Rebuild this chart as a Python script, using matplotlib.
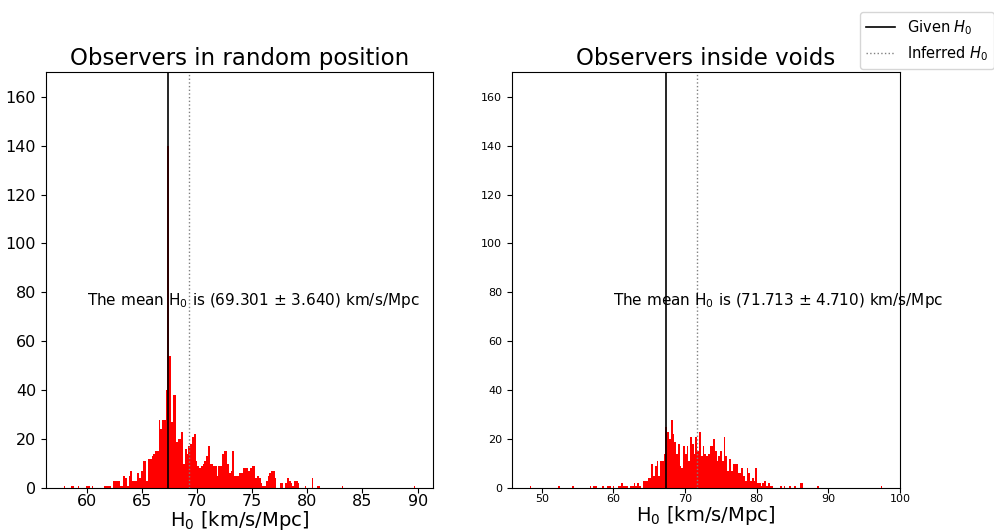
import numpy as np
import matplotlib
matplotlib.use("Agg")
import matplotlib.pyplot as plt

# H0 histograms (200 bins each) for the two observer samples
given_h0 = 67.4

random_range = (57.9, 89.8)
random_mean, random_std = 69.301, 3.640
random_counts = [
    1, 0, 0, 0, 1, 1, 0, 0, 1, 0,
    0, 0, 0, 1, 1, 0, 1, 0, 0, 0,
    0, 0, 0, 1, 1, 1, 1, 0, 3, 3,
    3, 3, 1, 1, 5, 4, 1, 5, 7, 3,
    3, 3, 6, 4, 7, 11, 11, 3, 12, 12,
    13, 14, 15, 15, 28, 24, 28, 28, 40, 140,
    54, 27, 38, 38, 19, 20, 20, 23, 10, 16,
    14, 17, 18, 21, 22, 11, 9, 8, 9, 10,
    11, 13, 17, 10, 10, 9, 9, 5, 9, 9,
    14, 15, 15, 10, 6, 7, 15, 5, 5, 5,
    6, 6, 8, 8, 8, 7, 8, 9, 9, 4,
    5, 4, 2, 1, 1, 3, 5, 6, 7, 7,
    4, 0, 0, 2, 2, 0, 2, 4, 3, 2,
    1, 3, 3, 2, 0, 0, 0, 1, 0, 0,
    0, 4, 0, 0, 1, 1, 0, 0, 0, 0,
    0, 0, 0, 0, 0, 0, 0, 0, 1, 0,
    0, 0, 0, 0, 0, 0, 0, 0, 0, 0,
    0, 0, 0, 0, 0, 0, 0, 0, 0, 0,
    0, 0, 0, 0, 0, 0, 0, 0, 0, 0,
    0, 0, 0, 0, 0, 0, 0, 0, 0, 1,
]

voids_range = (48.32, 97.54)
voids_mean, voids_std = 71.713, 4.710
voids_counts = [
    1, 0, 0, 0, 0, 0, 0, 0, 0, 0,
    0, 0, 0, 0, 0, 0, 1, 0, 0, 0,
    0, 0, 0, 0, 1, 0, 0, 0, 0, 0,
    0, 0, 0, 0, 1, 0, 1, 1, 0, 0,
    0, 1, 0, 0, 1, 1, 0, 1, 0, 0,
    1, 1, 2, 1, 1, 1, 0, 1, 1, 2,
    1, 2, 1, 0, 3, 3, 3, 4, 4, 10,
    5, 9, 11, 5, 11, 11, 14, 25, 23, 20,
    28, 22, 19, 14, 18, 9, 8, 17, 14, 17,
    11, 21, 18, 14, 21, 15, 23, 13, 17, 14,
    13, 14, 17, 17, 20, 15, 11, 13, 15, 11,
    21, 13, 7, 12, 7, 10, 10, 10, 6, 6,
    8, 5, 3, 8, 6, 3, 4, 3, 8, 2,
    2, 1, 2, 3, 1, 2, 1, 1, 0, 0,
    0, 0, 1, 0, 1, 0, 0, 1, 0, 0,
    1, 0, 0, 2, 2, 0, 0, 0, 0, 0,
    0, 0, 0, 1, 0, 0, 0, 0, 0, 0,
    0, 0, 0, 0, 0, 0, 0, 0, 0, 0,
    0, 0, 0, 0, 0, 0, 0, 0, 0, 0,
    0, 0, 0, 0, 0, 0, 0, 0, 0, 1,
]

fig = plt.figure(figsize=(9.95, 5.31), dpi=100)
ax1 = fig.add_axes([0.0462, 0.081, 0.389, 0.783])
ax2 = fig.add_axes([0.5146, 0.081, 0.390, 0.783])


def draw_hist(ax, counts, hrange, mean, std, title, tick_size):
    edges = np.linspace(hrange[0], hrange[1], len(counts) + 1)
    ax.bar(edges[:-1], counts, width=np.diff(edges), align="edge",
           color="red", linewidth=0)
    g = ax.axvline(given_h0, color="black", lw=1.2, label="Given $H_0$")
    i = ax.axvline(mean, color="grey", ls=":", lw=1.0, label="Inferred $H_0$")
    ax.set_ylim(0, 170)
    ax.set_yticks(range(0, 161, 20))
    ax.set_title(title, fontsize=16.5, pad=5)
    ax.set_xlabel("H$_0$ [km/s/Mpc]", fontsize=14, labelpad=0)
    ax.tick_params(labelsize=tick_size)
    ax.tick_params(axis="x", pad=1)
    ax.text(60, 75, "The mean H$_0$ is (%.3f $\\pm$ %.3f) km/s/Mpc" % (mean, std),
            fontsize=11)
    return g, i


given, inferred = draw_hist(ax1, random_counts, random_range, random_mean,
                            random_std, "Observers in random position", 11.5)
draw_hist(ax2, voids_counts, voids_range, voids_mean, voids_std,
          "Observers inside voids", 8)
ax2.set_xticks(range(50, 101, 10))

fig.legend(handles=[given, inferred], loc="upper left",
           bbox_to_anchor=(853 / 995, 1 - 5 / 531), fontsize=10.5,
           labelspacing=0.5)

fig.savefig("out.png", dpi=100)
